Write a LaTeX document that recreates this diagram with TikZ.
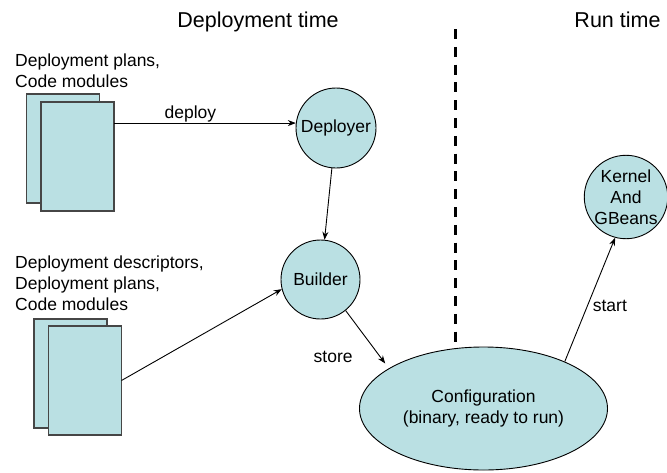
\documentclass[tikz,border=0pt]{standalone}
\usepackage{fontspec}
\setmainfont{Liberation Sans}
\usetikzlibrary{shapes.geometric,arrows.meta}
\definecolor{boxfill}{RGB}{186,224,227}
\definecolor{boxline}{RGB}{70,70,70}
\tikzset{
  body/.style={font=\fontsize{17.5}{21}\selectfont},
  titletext/.style={font=\fontsize{21.5}{25}\selectfont, anchor=base, inner sep=0},
  doc/.style={draw=boxline, line width=1.5pt, fill=boxfill, minimum width=73pt, minimum height=109pt, inner sep=0, outer sep=0},
  bubble/.style={circle, draw=black, line width=0.9pt, fill=boxfill, minimum size=80pt, inner sep=0, align=center, body},
  conn/.style={draw=black, line width=0.9pt, -{Stealth[length=8pt,width=6pt]}},
  lbl/.style={body, inner sep=0},
}
\begin{document}
\begin{tikzpicture}[x=1pt,y=-1pt]
\useasboundingbox (0,0) rectangle (667,472);
% titles
\node[titletext] (ttl1) at (258,27.5) {Deployment time};
\node[titletext] (ttl2) at (617.5,27.5) {Run time};
% divider
\coordinate (divtop) at (455,29);
\coordinate (divbot) at (455,342);
\draw[line width=3pt, dash pattern=on 10pt off 7.8pt] (divtop) -- (divbot);
% document stacks
\node[doc] (back1) at (63,148.5) {};
\node[doc] (front1) at (77.5,156.5) {};
\node[doc] (back2) at (70.5,373.5) {};
\node[doc] (front2) at (85,380.5) {};
% labels of stacks
\node[lbl, anchor=north west, align=left] (lab1) at (15,53.5) {Deployment plans,\\Code modules};
\node[lbl, anchor=north west, align=left] (lab2) at (15,256) {Deployment descriptors,\\Deployment plans,\\Code modules};
% bubbles
\node[bubble] (deployer) at (336,128) {Deployer};
\node[bubble, minimum size=79pt] (builder) at (320.5,279.5) {Builder};
\node[bubble, minimum size=82pt] (kernel) at (626,197) {Kernel\\And\\GBeans};
\node[ellipse, draw=black, line width=0.9pt, fill=boxfill, minimum width=248pt, minimum height=123pt, inner sep=0, align=center, body] (config) at (483.5,408.5) {Configuration\\(binary, ready to run)};
% connectors
\draw[conn] (front1.east |- deployer.173) -- node[lbl, pos=0.42, anchor=base, yshift=5pt] {deploy} (deployer.173);
\draw[conn] (deployer) -- (builder);
\draw[conn] (front2.east) -- (builder.194);
\draw[conn, shorten >=6pt] (builder.-51) -- node[lbl, pos=0.75, anchor=east, xshift=-25pt, yshift=-3pt] {store} (config.157);
\draw[conn] (config.30) -- node[lbl, pos=0.45, anchor=west, xshift=5pt] {start} (kernel.255);
\end{tikzpicture}
\end{document}
